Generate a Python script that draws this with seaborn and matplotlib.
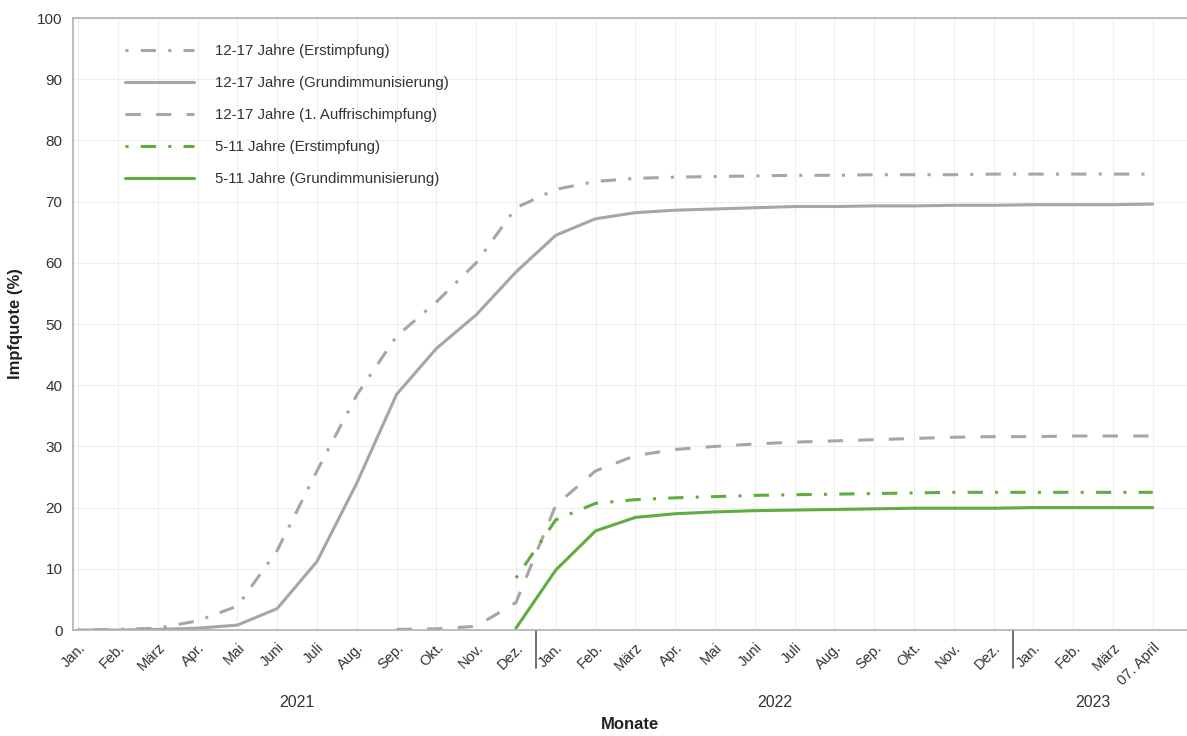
import numpy as np
import pandas as pd
import seaborn as sns
import matplotlib.pyplot as plt

months = ["Jan.", "Feb.", "März", "Apr.", "Mai", "Juni", "Juli", "Aug.", "Sep.", "Okt.", "Nov.", "Dez."]
tick_labels = months + months + ["Jan.", "Feb.", "März", "07. April"]
years = ["2021", "2022", "2023"]

# Impfquoten (%) je Monat, Index 0 = Jan. 2021 ... 27 = 07. April 2023
erst_12_17 = [0.0, 0.1, 0.3, 1.5, 3.9, 13.0, 26.0, 38.4, 48.0, 53.6, 60.0, 69.0,
              72.0, 73.3, 73.8, 74.0, 74.1, 74.2, 74.3, 74.3, 74.4, 74.4, 74.4, 74.5,
              74.5, 74.5, 74.5, 74.5]
grund_12_17 = [0.0, 0.0, 0.1, 0.3, 0.8, 3.5, 11.2, 24.0, 38.5, 46.0, 51.5, 58.5,
               64.5, 67.2, 68.2, 68.6, 68.8, 69.0, 69.2, 69.2, 69.3, 69.3, 69.4, 69.4,
               69.5, 69.5, 69.5, 69.6]
booster_12_17 = [0.1, 0.2, 0.6, 4.5,
                 20.4, 26.0, 28.5, 29.5, 30.0, 30.4, 30.7, 30.9, 31.1, 31.3, 31.5, 31.6,
                 31.6, 31.7, 31.7, 31.7]
erst_5_11 = [8.5, 18.0, 20.7, 21.3, 21.6, 21.8, 22.0, 22.1, 22.2, 22.3, 22.4, 22.5, 22.5,
             22.5, 22.5, 22.5, 22.5]
grund_5_11 = [0.3, 9.8, 16.2, 18.4, 19.0, 19.3, 19.5, 19.6, 19.7, 19.8, 19.9, 19.9, 19.9,
              20.0, 20.0, 20.0, 20.0]

grey = "#a6a6a6"
green = "#5fad3f"
dashdot = (0, (1, 4, 5, 4))
dashed = (0, (5, 5))

series = [
    ("12-17 Jahre (Erstimpfung)", 0, erst_12_17, grey, dashdot),
    ("12-17 Jahre (Grundimmunisierung)", 0, grund_12_17, grey, "-"),
    ("12-17 Jahre (1. Auffrischimpfung)", 8, booster_12_17, grey, dashed),
    ("5-11 Jahre (Erstimpfung)", 11, erst_5_11, green, dashdot),
    ("5-11 Jahre (Grundimmunisierung)", 11, grund_5_11, green, "-"),
]

sns.set_style("white")
plt.rcParams["font.family"] = ["Liberation Sans", "DejaVu Sans"]

fig = plt.figure(figsize=(11.87, 7.36), dpi=100)
ax = fig.add_axes([0.0615, 0.144, 0.9385, 0.8315])

for label, start, values, color, ls in series:
    x = np.arange(start, start + len(values))
    sns.lineplot(x=x, y=values, ax=ax, color=color, linestyle=ls, linewidth=2.2, label=label)

ax.set_xlim(-0.13, 27.86)
ax.set_ylim(0, 100)
ax.set_yticks(range(0, 101, 10))
ax.set_xticks(range(len(tick_labels)))
ax.set_xticklabels(tick_labels, rotation=45, ha="right", rotation_mode="anchor", color="#333333", fontsize=10.5)
ax.tick_params(axis="y", labelsize=11, colors="#333333")
ax.tick_params(axis="both", direction="out", length=4, color="#888888", width=1)
ax.grid(True, color="#eeeeee", linewidth=0.8)
for side in ["left", "bottom", "top"]:
    ax.spines[side].set_color("#b0b0b0")
    ax.spines[side].set_linewidth(1.2)
ax.spines["right"].set_visible(False)

# Jahrestrenner und Jahreszahlen
for sep in [11.5, 23.5]:
    ax.axvline(sep, ymin=-0.062, ymax=0, color="#555555", linewidth=1.2, clip_on=False)
trans = ax.get_xaxis_transform()
for xpos, year in zip([5.5, 17.5, 25.5], years):
    ax.text(xpos, -0.119, year, transform=trans, ha="center", va="center", fontsize=11.5, color="#333333")

ax.set_xlabel("Monate", fontsize=12, fontweight="bold", color="#222222", va="center")
ax.xaxis.set_label_coords(0.5, -0.155)
ax.set_ylabel("Impfquote (%)", fontsize=12, fontweight="bold", color="#222222", labelpad=10)

leg = ax.legend(loc="upper left", bbox_to_anchor=(0.035, 0.98), frameon=False, fontsize=10.8,
                handlelength=4.6, handletextpad=1.4, labelspacing=1.2)
for t in leg.get_texts():
    t.set_color("#333333")

fig.savefig("out.png", dpi=100)
